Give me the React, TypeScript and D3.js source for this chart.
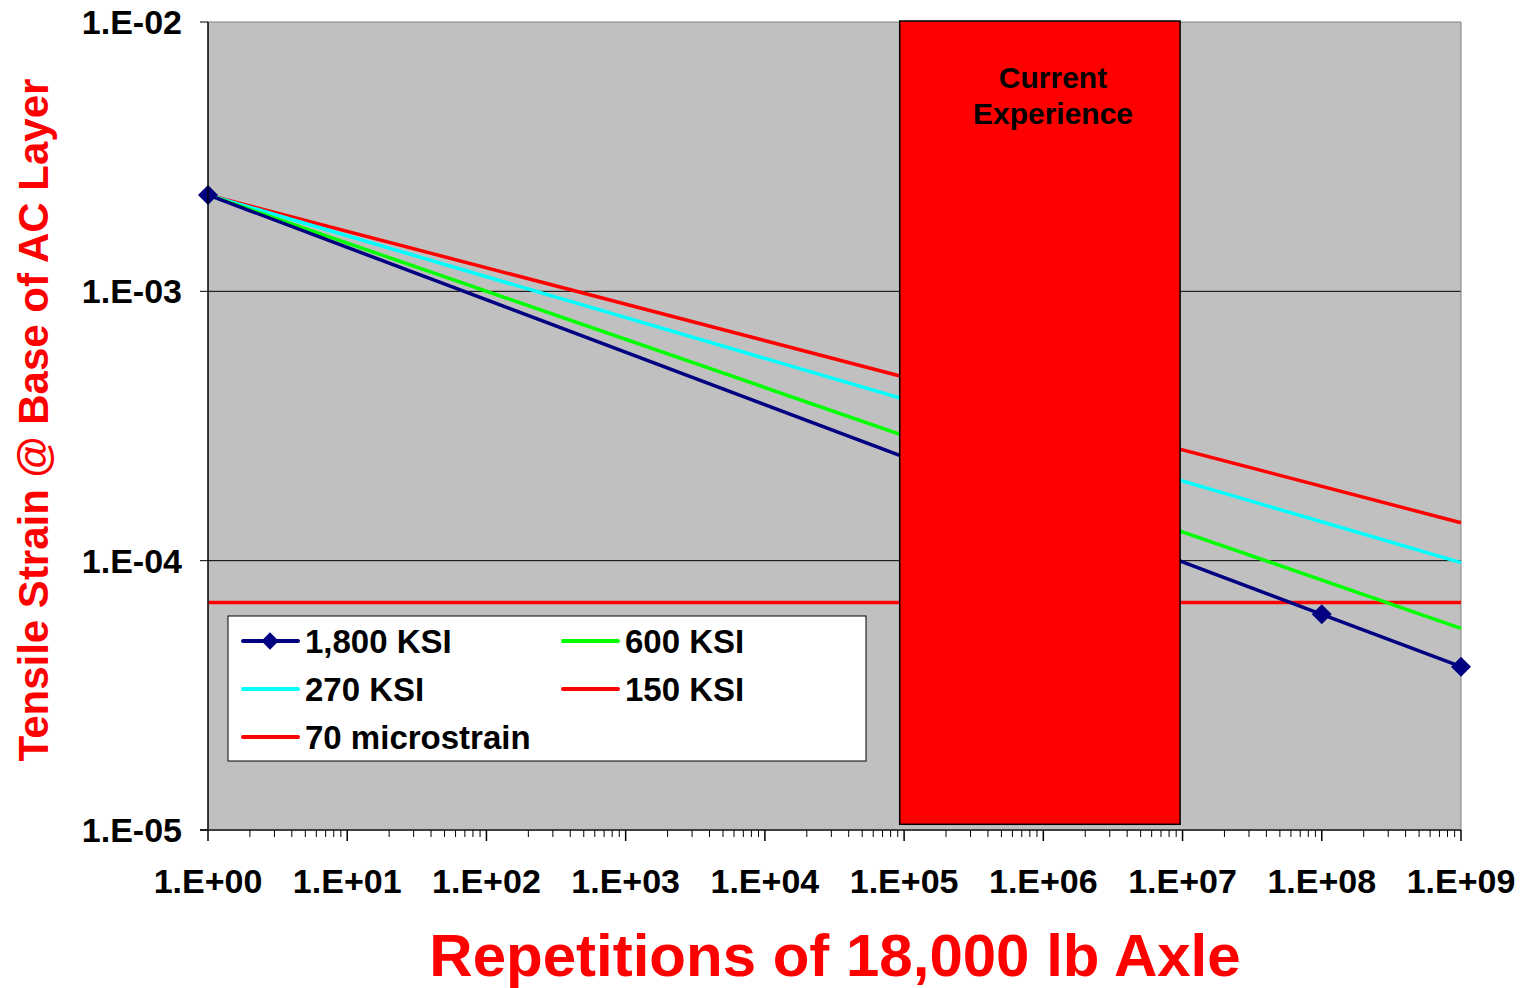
import React from "react";
import * as d3 from "d3";

// Repetitions (x) and tensile strain (y) for each modulus
const reps1800 = [1, 1e8, 1e9];
const strain1800 = [2.28e-3, 6.32e-5, 4.04e-5];
const repsLine = [1, 1e9];
const strain600 = [2.28e-3, 5.61e-5];
const strain270 = [2.28e-3, 9.83e-5];
const strain150 = [2.28e-3, 1.383e-4];
const strainLimit = [70e-6, 70e-6];

// "Current Experience" band
const bandReps = [9.3e4, 9.6e6];
const bandStrain = [1.05e-5, 1.0e-2];

const xTickValues = [1e0, 1e1, 1e2, 1e3, 1e4, 1e5, 1e6, 1e7, 1e8, 1e9];
const xTickLabels = ["1.E+00", "1.E+01", "1.E+02", "1.E+03", "1.E+04", "1.E+05", "1.E+06", "1.E+07", "1.E+08", "1.E+09"];
const yTickValues = [1e-2, 1e-3, 1e-4, 1e-5];
const yTickLabels = ["1.E-02", "1.E-03", "1.E-04", "1.E-05"];

const legendItems = [
  { label: "1,800 KSI", color: "#000080", marker: true },
  { label: "600 KSI", color: "#00FF00", marker: false },
  { label: "270 KSI", color: "#00FFFF", marker: false },
  { label: "150 KSI", color: "#FF0000", marker: false },
  { label: "70 microstrain", color: "#FF0000", marker: false },
];

const FONT = "'Liberation Sans', Arial, sans-serif";

export default function App() {
  const left = 208, right = 1461, top = 22, bottom = 830;
  const x = d3.scaleLog().domain([1, 1e9]).range([left, right]);
  const y = d3.scaleLog().domain([1e-5, 1e-2]).range([bottom, top]);

  const line = d3
    .line<[number, number]>()
    .x((d) => x(d[0]))
    .y((d) => y(d[1]));

  const zip = (xs: number[], ys: number[]) => xs.map((v, i) => [v, ys[i]] as [number, number]);

  const series = [
    { pts: zip(repsLine, strainLimit), color: "#FF0000" },
    { pts: zip(repsLine, strain150), color: "#FF0000" },
    { pts: zip(repsLine, strain270), color: "#00FFFF" },
    { pts: zip(repsLine, strain600), color: "#00FF00" },
    { pts: zip(reps1800, strain1800), color: "#000080" },
  ];

  const diamond = d3.symbol().type(d3.symbolSquare).size(200)();

  // minor ticks on the log x axis
  const minorTicks: number[] = [];
  for (let e = 0; e < 9; e++) {
    for (let m = 2; m <= 9; m++) minorTicks.push(m * Math.pow(10, e));
  }

  const legendX = 228, legendY = 616, legendW = 638, legendH = 145;
  const rowY = [641, 689, 737];
  const colX = [243, 563];

  const bandCenter = 1053;

  return (
    <svg
      width={1526}
      height={988}
      style={{ position: "absolute", left: 0, top: 0, background: "#fff" }}
      fontFamily={FONT}
    >
      {/* plot background */}
      <rect x={left} y={top} width={right - left} height={bottom - top} fill="#C0C0C0" />

      {/* horizontal gridlines */}
      {yTickValues.map((v) => (
        <line key={"g" + v} x1={left} x2={right} y1={y(v)} y2={y(v)} stroke={v === 1e-2 ? "#808080" : "#000"} strokeWidth={1} />
      ))}
      <line x1={right} x2={right} y1={top} y2={bottom} stroke="#808080" strokeWidth={1} />

      {/* series */}
      {series.map((s, i) => (
        <path key={"s" + i} d={line(s.pts) || ""} fill="none" stroke={s.color} strokeWidth={3.5} />
      ))}
      {zip(reps1800, strain1800).map((p, i) => (
        <path key={"m" + i} d={diamond || ""} transform={`translate(${x(p[0])},${y(p[1])}) rotate(45)`} fill="#000080" />
      ))}

      {/* current experience band */}
      <rect
        x={x(bandReps[0])}
        y={y(bandStrain[1]) - 1}
        width={x(bandReps[1]) - x(bandReps[0])}
        height={y(bandStrain[0]) - y(bandStrain[1]) + 1}
        fill="#FF0000"
        stroke="#000"
        strokeWidth={1.5}
      />
      <text x={bandCenter} y={88} textAnchor="middle" fontSize={30} fontWeight="bold" fill="#000">
        Current
      </text>
      <text x={bandCenter} y={124} textAnchor="middle" fontSize={30} fontWeight="bold" fill="#000">
        Experience
      </text>

      {/* axes */}
      <line x1={left} x2={left} y1={top} y2={bottom} stroke="#000" strokeWidth={1.5} />
      <line x1={left - 8} x2={right} y1={bottom} y2={bottom} stroke="#404040" strokeWidth={2} />
      {yTickValues.map((v, i) => (
        <g key={"yt" + v}>
          <line x1={left - 8} x2={left} y1={y(v)} y2={y(v)} stroke="#000" strokeWidth={1} />
          <text x={182} y={y(v)} dy="0.35em" textAnchor="end" fontSize={34} fontWeight="bold" fill="#000">
            {yTickLabels[i]}
          </text>
        </g>
      ))}
      {minorTicks.map((v) => (
        <line key={"mt" + v} x1={x(v)} x2={x(v)} y1={bottom} y2={bottom + 7} stroke="#000" strokeWidth={1} />
      ))}
      {xTickValues.map((v, i) => (
        <g key={"xt" + v}>
          <line x1={x(v)} x2={x(v)} y1={bottom} y2={bottom + 11} stroke="#000" strokeWidth={1.5} />
          <text x={x(v)} y={893} textAnchor="middle" fontSize={34} fontWeight="bold" fill="#000">
            {xTickLabels[i]}
          </text>
        </g>
      ))}

      {/* legend */}
      <rect x={legendX} y={legendY} width={legendW} height={legendH} fill="#fff" stroke="#000" strokeWidth={1} />
      {legendItems.map((it, i) => {
        const cx = colX[i % 2];
        const cy = rowY[Math.floor(i / 2)];
        return (
          <g key={"l" + i}>
            <line x1={cx} x2={cx + 55} y1={cy} y2={cy} stroke={it.color} strokeWidth={4} strokeLinecap="round" />
            {it.marker && (
              <path d={d3.symbol().type(d3.symbolSquare).size(150)() || ""} transform={`translate(${cx + 27},${cy}) rotate(45)`} fill={it.color} />
            )}
            <text x={cx + 62} y={cy} dy="0.35em" fontSize={33} fontWeight="bold" fill="#000">
              {it.label}
            </text>
          </g>
        );
      })}

      {/* axis titles */}
      <text x={835} y={976} textAnchor="middle" fontSize={60} fontWeight="bold" fill="#FF0000">
        Repetitions of 18,000 lb Axle
      </text>
      <text
        transform={`translate(48,420) rotate(-90)`}
        textAnchor="middle"
        fontSize={42}
        fontWeight="bold"
        fill="#FF0000"
      >
        Tensile Strain @ Base of AC Layer
      </text>
    </svg>
  );
}
